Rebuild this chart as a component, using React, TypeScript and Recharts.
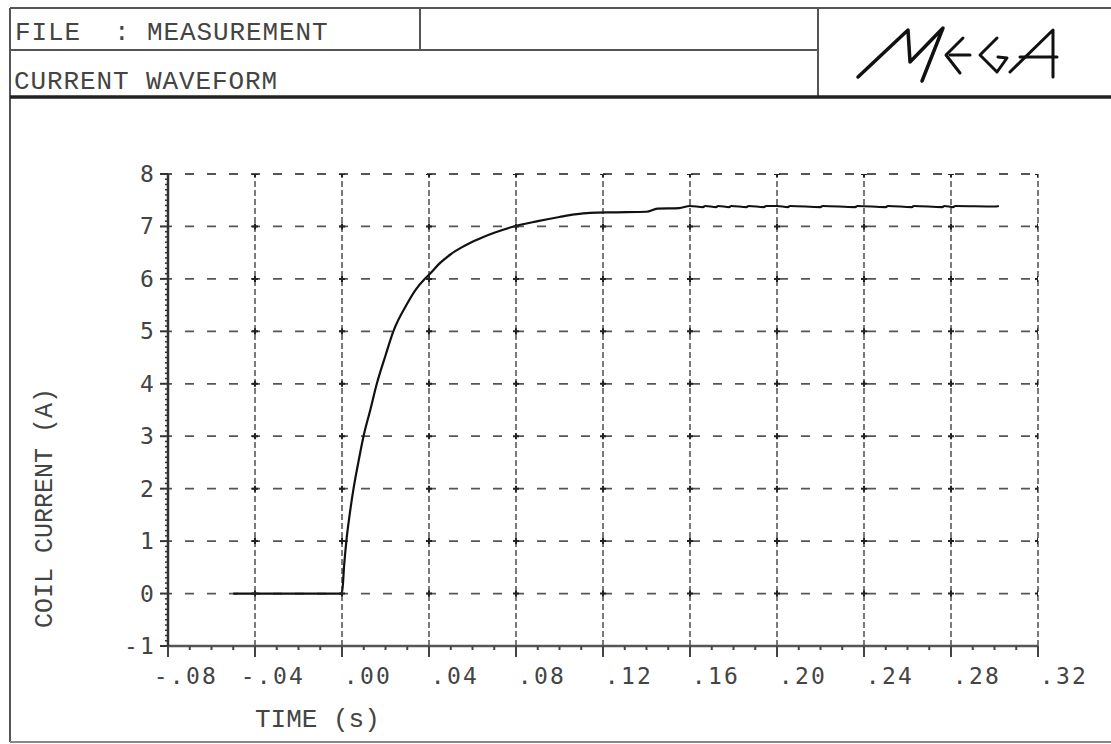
import { ComposedChart, Line, Scatter, XAxis, YAxis, ReferenceLine } from 'recharts';

const timeS = [
  -0.05, 0, 0.001, 0.002, 0.0035, 0.0053, 0.0075, 0.0099, 0.013, 0.016, 0.02, 0.0236, 0.03, 0.034,
  0.038, 0.04, 0.045, 0.05, 0.055, 0.06, 0.065, 0.07, 0.079, 0.09, 0.1, 0.107, 0.114, 0.125, 0.14, 0.145,
  0.155, 0.16, 0.166, 0.167, 0.172, 0.173, 0.178, 0.179, 0.186, 0.187, 0.194, 0.195, 0.2, 0.205,
  0.206, 0.22, 0.221, 0.236, 0.237, 0.25, 0.251, 0.262, 0.263, 0.276, 0.277, 0.281, 0.282, 0.3, 0.302,
];
const currentA = [
  0, 0, 0.55, 1.0, 1.5, 2.0, 2.5, 3.0, 3.5, 4.0, 4.54, 5.0, 5.53, 5.8,
  6.0, 6.08, 6.3, 6.47, 6.6, 6.71, 6.8, 6.88, 7.0, 7.1, 7.18, 7.23, 7.26, 7.27, 7.28, 7.34,
  7.35, 7.39, 7.37, 7.39, 7.37, 7.39, 7.37, 7.39, 7.37, 7.39, 7.37, 7.39, 7.39, 7.37,
  7.39, 7.37, 7.39, 7.37, 7.39, 7.37, 7.39, 7.37, 7.39, 7.37, 7.39, 7.37, 7.39, 7.38, 7.39,
];

const xMajorTicks = [-0.08, -0.04, 0, 0.04, 0.08, 0.12, 0.16, 0.2, 0.24, 0.28, 0.32];
const xTickLabels = ['-.08', '-.04', '.00', '.04', '.08', '.12', '.16', '.20', '.24', '.28', '.32'];
const yMajorTicks = [-1, 0, 1, 2, 3, 4, 5, 6, 7, 8];
const yTickLabels = ['-1', '0', '1', '2', '3', '4', '5', '6', '7', '8'];

const xMinorTicks = Array.from({ length: 41 }, (_, i) => (i - 8) / 100);
const yMinorTicks = Array.from({ length: 91 }, (_, i) => (i - 10) / 10);

const curve = timeS.map((t, i) => ({ t, i: currentA[i] }));
const crossings = xMajorTicks
  .slice(1)
  .flatMap((t) => yMajorTicks.slice(1).map((i) => ({ t, i })));

const tickFont = { fontFamily: '"DejaVu Sans Mono", monospace', fontSize: 23, fill: '#444', letterSpacing: 2.2 };
const monoFont = '"Liberation Mono", "DejaVu Sans Mono", monospace';

function XTick(props: any) {
  const { x, y, payload } = props;
  const k = Math.round(payload.value * 100) + 8;
  const major = k % 4 === 0;
  return (
    <g>
      <line x1={x} x2={x} y1={y} y2={y + (major ? 11 : 4)} stroke="#444" strokeWidth={2} />
      {major && (
        <text x={x + 50} y={y + 38} textAnchor="end" {...tickFont}>
          {xTickLabels[k / 4]}
        </text>
      )}
    </g>
  );
}

function YTick(props: any) {
  const { x, y, payload } = props;
  const k = Math.round(payload.value * 10) + 10;
  const major = k % 10 === 0;
  return (
    <g>
      <line x1={x} x2={x - (major ? 8 : 3)} y1={y} y2={y} stroke="#333" strokeWidth={major ? 2 : 1.5} />
      {major && (
        <text x={x - 12} y={y + 8} textAnchor="end" {...tickFont}>
          {yTickLabels[k / 10]}
        </text>
      )}
    </g>
  );
}

function Cross(props: any) {
  const { cx, cy } = props;
  return (
    <path d={`M${cx - 3},${cy}H${cx + 3}M${cx},${cy - 3}V${cy + 3}`} stroke="#222" strokeWidth={2} />
  );
}

function Frame() {
  return (
    <svg width={1111} height={744} style={{ position: 'absolute', left: 0, top: 0, pointerEvents: 'none' }}>
      <g stroke="#555" fill="none">
        <line x1={10} x2={1111} y1={8} y2={8} strokeWidth={2} />
        <line x1={10} x2={10} y1={8} y2={742} strokeWidth={2} />
        <line x1={10} x2={1111} y1={742} y2={742} strokeWidth={2} stroke="#888" />
        <line x1={10} x2={818} y1={50} y2={50} strokeWidth={2} />
        <line x1={420} x2={420} y1={8} y2={50} strokeWidth={2} />
        <line x1={818} x2={818} y1={8} y2={97} strokeWidth={2} />
        <line x1={10} x2={1111} y1={97} y2={97} strokeWidth={3.5} stroke="#222" />
      </g>
      <text x={15} y={40} fontFamily={monoFont} fontSize={26} letterSpacing={0.9} fill="#444" style={{ whiteSpace: 'pre' }}>
        {'FILE  : MEASUREMENT'}
      </text>
      <text x={14} y={89} fontFamily={monoFont} fontSize={26} letterSpacing={0.9} fill="#444">
        CURRENT WAVEFORM
      </text>
      {/* MEGA logo */}
      <g stroke="#111" strokeWidth={3} fill="none" strokeLinecap="round" strokeLinejoin="round">
        <polyline points="858,77 908,30 910,62 943,28 922,81" strokeWidth={3.5} />
        <polyline points="963,38 946,55 960,73" />
        <line x1={950} x2={970} y1={55} y2={55} />
        <polyline points="997,38 980,55 997,72 1007,58 998,57" />
        <polyline points="1010,72 1053,30 1053,77" />
        <line x1={1020} x2={1057} y1={57} y2={57} />
      </g>
      <text x={255} y={727} fontFamily={monoFont} fontSize={26} fill="#444" style={{ whiteSpace: 'pre' }}>
        TIME (s)
      </text>
      <text
        x={0}
        y={0}
        transform="translate(52,508) rotate(-90)"
        textAnchor="middle"
        fontFamily={monoFont}
        fontSize={25}
        fill="#444"
      >
        COIL CURRENT (A)
      </text>
    </svg>
  );
}

export default function App() {
  return (
    <div style={{ position: 'absolute', left: 0, top: 0, width: 1111, height: 744, background: '#fff' }}>
      <ComposedChart width={1111} height={744} margin={{ top: 174, right: 73, bottom: 38, left: 108 }}>
        <XAxis
          xAxisId={0}
          dataKey="t"
          type="number"
          domain={[-0.08, 0.32]}
          ticks={xMinorTicks}
          interval={0}
          allowDataOverflow
          tickSize={0}
          tickMargin={0}
          tickLine={false}
          height={60}
          axisLine={{ stroke: '#555', strokeWidth: 2.5 }}
          tick={<XTick />}
        />
        <YAxis
          yAxisId={0}
          type="number"
          domain={[-1, 8]}
          ticks={yMinorTicks}
          interval={0}
          allowDataOverflow
          tickSize={0}
          tickMargin={0}
          tickLine={false}
          width={60}
          axisLine={{ stroke: '#333', strokeWidth: 2.5 }}
          tick={<YTick />}
        />
        {yMajorTicks.slice(1).map((v) => (
          <ReferenceLine
            key={'h' + v}
            y={v}
            stroke="#555"
            strokeWidth={1.8}
            strokeDasharray="9 13"
            strokeDashoffset={5}
          />
        ))}
        {xMajorTicks.slice(1).map((v) => (
          <ReferenceLine key={'v' + v} x={v} stroke="#333" strokeWidth={1.3} strokeDasharray="6 3" />
        ))}
        <Scatter data={crossings} dataKey="i" shape={<Cross />} isAnimationActive={false} />
        <Line
          data={curve}
          dataKey="i"
          type="monotone"
          stroke="#111"
          strokeWidth={2.2}
          dot={false}
          isAnimationActive={false}
        />
      </ComposedChart>
      <Frame />
    </div>
  );
}
